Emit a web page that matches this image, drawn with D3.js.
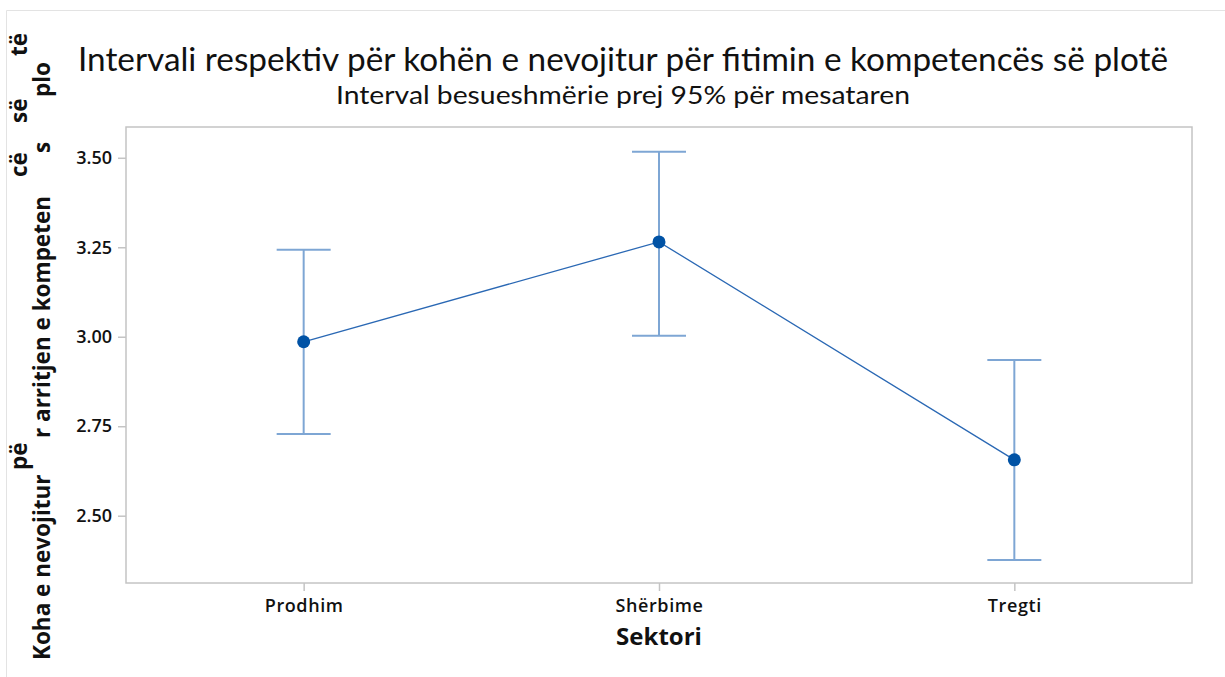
<!DOCTYPE html>
<html>
<head>
<meta charset="utf-8">
<script src="https://cdn.jsdelivr.net/npm/d3@7"></script>
<style>
  body { margin: 0; background: #fff; }
  svg { display: block; }
</style>
</head>
<body>
<svg id="chart"></svg>
<script>
// data
var sectors = ["Prodhim", "Shërbime", "Tregti"];
var means = [2.986, 3.265, 2.656];
var lower = [2.728, 3.003, 2.376];
var upper = [3.243, 3.517, 2.935];
var yTicks = [2.50, 2.75, 3.00, 3.25, 3.50];

var title = "Intervali respektiv për kohën e nevojitur për fitimin e kompetencës së plotë";
var subtitle = "Interval besueshmërie prej 95% për mesataren";
var xTitle = "Sektori";
// y label as it is broken up in the picture: [text, line, start y]
var yLabelParts = [
  ["Koha e nevojitur", 1, 660],
  ["pë", 0, 470],
  ["r arritjen e kompeten", 1, 438],
  ["cë", 0, 177],
  ["s", 1, 153],
  ["së", 0, 123],
  ["plo", 1, 97],
  ["të", 0, 56]
];

var width = 1225,
    height = 677,
    plot = {left: 126, top: 127, right: 1192, bottom: 583};

var svg = d3.select("#chart")
    .attr("width", width)
    .attr("height", height);

// outer frame
svg.append("path")
    .attr("d", "M6.5," + height + "V10.5H" + width)
    .style("fill", "none")
    .style("stroke", "#e3e3e3")
    .style("stroke-width", 1);

var x = d3.scalePoint()
    .domain(sectors)
    .range([plot.left, plot.right])
    .padding(0.5);

var y = d3.scaleLinear()
    .domain([2.312, 3.586])
    .range([plot.bottom, plot.top]);

// y axis
var yAxis = svg.append("g")
    .attr("transform", "translate(" + plot.left + ",0)")
    .call(d3.axisLeft(y).tickValues(yTicks).tickFormat(d3.format(".2f")).tickSize(8).tickPadding(6));
yAxis.select(".domain").remove();
yAxis.selectAll(".tick line").style("stroke", "#c4c4c4").style("stroke-width", 1.5);
yAxis.selectAll(".tick text")
    .style("font-family", "'Open Sans', sans-serif")
    .style("font-size", "18px")
    .style("font-weight", 600)
    .style("fill", "#111");

// x axis
var xAxis = svg.append("g")
    .attr("transform", "translate(0," + plot.bottom + ")")
    .call(d3.axisBottom(x).tickSize(8).tickPadding(8));
xAxis.select(".domain").remove();
xAxis.selectAll(".tick line").style("stroke", "#c4c4c4").style("stroke-width", 1.5);
xAxis.selectAll(".tick text")
    .style("font-family", "'Open Sans', sans-serif")
    .style("font-size", "18px")
    .style("font-weight", 600)
    .style("letter-spacing", "0.6px")
    .style("fill", "#111");

// plot frame
svg.append("rect")
    .attr("x", plot.left)
    .attr("y", plot.top)
    .attr("width", plot.right - plot.left)
    .attr("height", plot.bottom - plot.top)
    .style("fill", "none")
    .style("stroke", "#c4c4c4")
    .style("stroke-width", 1.5);

// error bars
var bars = svg.append("g").selectAll("g")
    .data(sectors)
    .enter().append("g");

bars.append("line")
    .attr("x1", function(d) { return x(d); })
    .attr("x2", function(d) { return x(d); })
    .attr("y1", function(d, i) { return y(lower[i]); })
    .attr("y2", function(d, i) { return y(upper[i]); });
bars.append("line")
    .attr("x1", function(d) { return x(d) - 27; })
    .attr("x2", function(d) { return x(d) + 27; })
    .attr("y1", function(d, i) { return y(upper[i]); })
    .attr("y2", function(d, i) { return y(upper[i]); });
bars.append("line")
    .attr("x1", function(d) { return x(d) - 27; })
    .attr("x2", function(d) { return x(d) + 27; })
    .attr("y1", function(d, i) { return y(lower[i]); })
    .attr("y2", function(d, i) { return y(lower[i]); });
bars.selectAll("line")
    .style("stroke", "#7ea6d4")
    .style("stroke-width", 2);

// connecting line
var line = d3.line()
    .x(function(d, i) { return x(sectors[i]); })
    .y(function(d) { return y(d); });

svg.append("path")
    .datum(means)
    .attr("d", line)
    .style("fill", "none")
    .style("stroke", "#2a68b4")
    .style("stroke-width", 1.3);

// means
svg.append("g").selectAll("circle")
    .data(means)
    .enter().append("circle")
    .attr("cx", function(d, i) { return x(sectors[i]); })
    .attr("cy", function(d) { return y(d); })
    .attr("r", 6.5)
    .style("fill", "#0052a5");

// titles
svg.append("text")
    .attr("x", 623)
    .attr("y", 71)
    .attr("textLength", 1090)
    .attr("lengthAdjust", "spacingAndGlyphs")
    .style("text-anchor", "middle")
    .style("font-family", "Lato, sans-serif")
    .style("font-size", "33px")
    .style("fill", "#111")
    .text(title);

svg.append("text")
    .attr("x", 623)
    .attr("y", 104)
    .attr("textLength", 574)
    .attr("lengthAdjust", "spacingAndGlyphs")
    .style("text-anchor", "middle")
    .style("font-family", "Lato, sans-serif")
    .style("font-size", "25px")
    .style("fill", "#111")
    .text(subtitle);

svg.append("text")
    .attr("x", x("Shërbime"))
    .attr("y", 645)
    .style("text-anchor", "middle")
    .style("font-family", "'Open Sans', sans-serif")
    .style("font-size", "24px")
    .style("font-weight", 700)
    .style("fill", "#111")
    .text(xTitle);

// y axis label (two broken lines)
var lineX = [27, 50];
svg.append("g").selectAll("text")
    .data(yLabelParts)
    .enter().append("text")
    .attr("transform", function(d) {
      return "translate(" + lineX[d[1]] + "," + d[2] + ") rotate(-90)";
    })
    .style("font-family", "'Open Sans', sans-serif")
    .style("font-size", "22.5px")
    .style("font-weight", 700)
    .style("fill", "#111")
    .text(function(d) { return d[0]; });
</script>
</body>
</html>
